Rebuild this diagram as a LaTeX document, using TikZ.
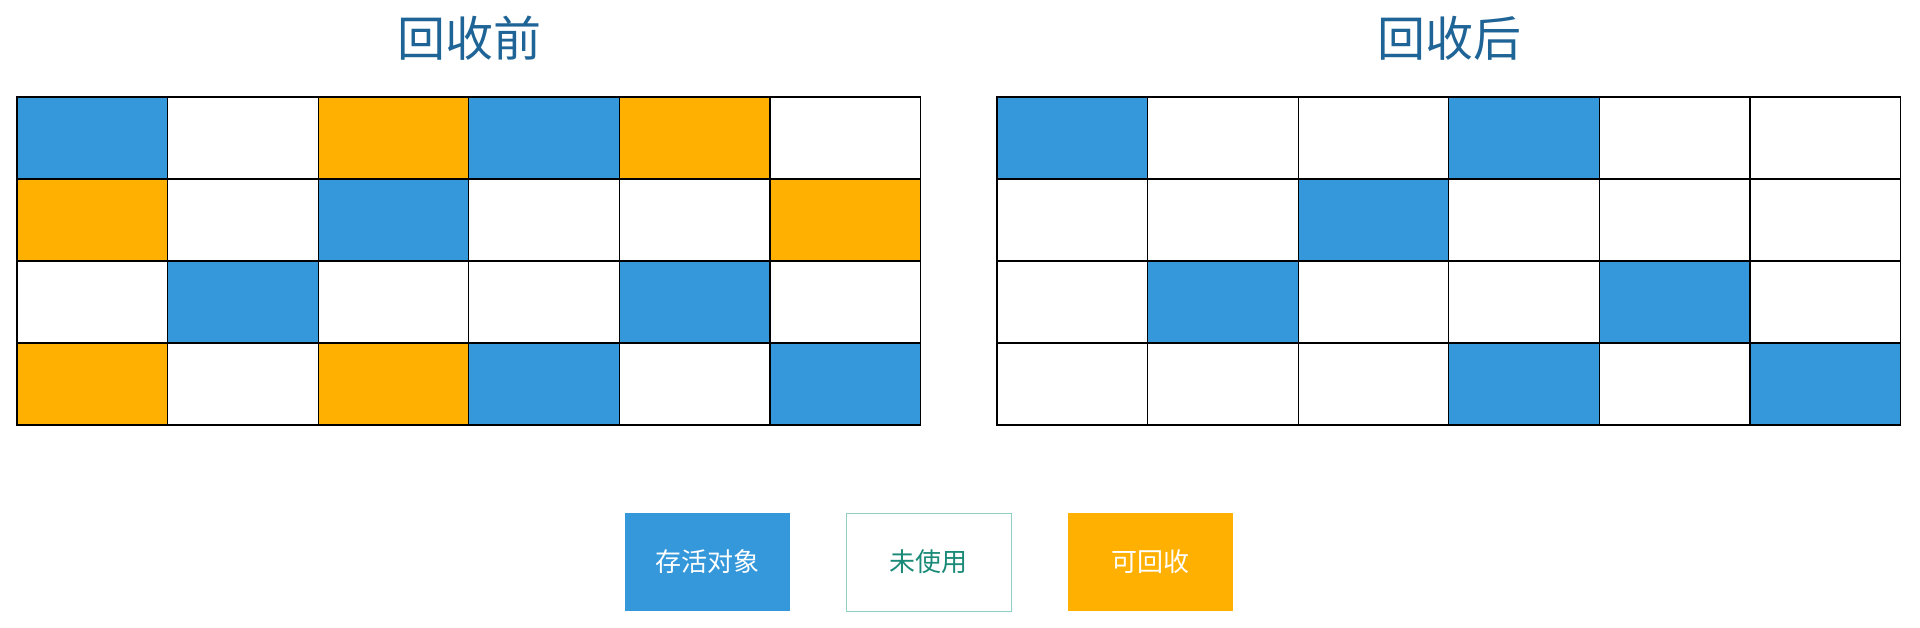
\documentclass[tikz,border=0pt]{standalone}
\usepackage{fontspec}
\setmainfont{Noto Sans CJK SC}
\usetikzlibrary{positioning}

\definecolor{alive}{HTML}{3598DB}
\definecolor{unused}{HTML}{FFFFFF}
\definecolor{garbage}{HTML}{FFB000}
\definecolor{titleblue}{HTML}{1F6496}
\definecolor{keytext}{HTML}{1A8A78}
\definecolor{keyline}{HTML}{8FCFBF}

\tikzset{
  cell/.style={draw=black, line width=0.6pt, anchor=north west,
    minimum width=75.3pt, minimum height=41pt, inner sep=0pt, outer sep=0pt},
  heading/.style={text=titleblue, font=\fontsize{24}{28}\selectfont},
  key/.style={minimum width=82.5pt, minimum height=49pt, inner sep=0pt,
    font=\fontsize{13}{16}\selectfont}
}

\begin{document}
\begin{tikzpicture}[x=0.5pt,y=-0.5pt]
  \useasboundingbox (0,0) rectangle (1920,627);

  % heap before collection
  \foreach \r/\cols in {1/{alive,unused,garbage,alive,garbage,unused},
                        2/{garbage,unused,alive,unused,unused,garbage},
                        3/{unused,alive,unused,unused,alive,unused},
                        4/{garbage,unused,garbage,alive,unused,alive}}
    \foreach \c [count=\j] in \cols
      \node[cell, fill=\c] (pre-\r-\j) at ({17+(\j-1)*150.6},{97+(\r-1)*82}) {};

  % heap after collection
  \foreach \r/\cols in {1/{alive,unused,unused,alive,unused,unused},
                        2/{unused,unused,alive,unused,unused,unused},
                        3/{unused,alive,unused,unused,alive,unused},
                        4/{unused,unused,unused,alive,unused,alive}}
    \foreach \c [count=\j] in \cols
      \node[cell, fill=\c] (post-\r-\j) at ({997+(\j-1)*150.6},{97+(\r-1)*82}) {};

  \node[heading] (pre-title) at (469,38) {回收前};
  \node[heading] (post-title) at (1449,38) {回收后};

  % legend
  \node[key, fill=alive, text=white] (k-alive) at (707,562) {存活对象};
  \node[key, draw=keyline, line width=0.5pt, text=keytext, right=28pt of k-alive] (k-unused) {未使用};
  \node[key, fill=garbage, text=white, right=28pt of k-unused] (k-garbage) {可回收};
\end{tikzpicture}
\end{document}
